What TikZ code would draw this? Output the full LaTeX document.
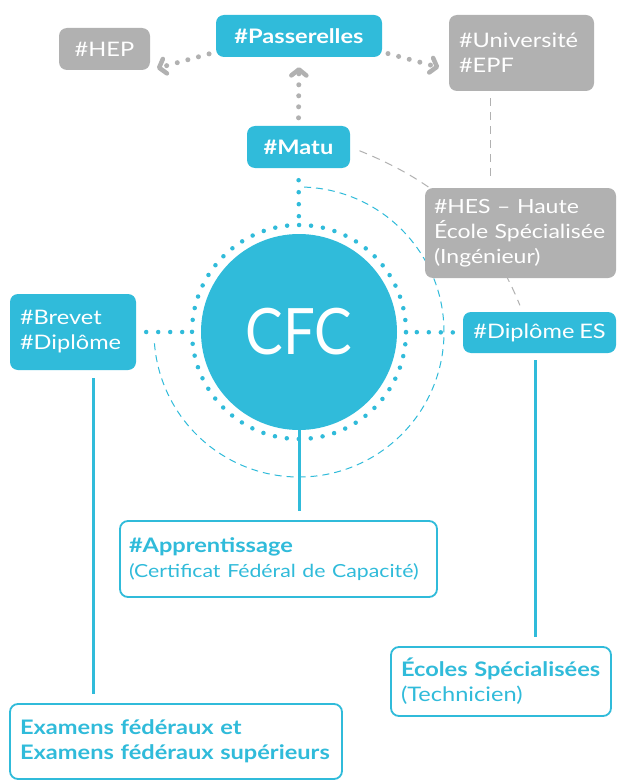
\documentclass[tikz,border=0pt]{standalone}
\usepackage{fontspec}
\setmainfont{Lato}[FakeStretch=1.18, WordSpace=0.8]
\newfontfamily\cfcfont{Lato}[FakeStretch=0.88]
\usetikzlibrary{arrows.meta,backgrounds,positioning}
\definecolor{cfcblue}{HTML}{30BBDA}
\definecolor{cfcgray}{HTML}{B1B1B1}

\begin{document}
\begin{tikzpicture}[x=1pt,y=1pt,
    box/.style={rounded corners=8pt, inner xsep=10pt, inner ysep=0pt,
      font=\fontsize{20}{25}\selectfont, text=white},
    bluebox/.style={box, fill=cfcblue},
    graybox/.style={box, fill=cfcgray},
    linebox/.style={box, draw=cfcblue, line width=1.8pt, fill=white,
      text=cfcblue, align=left},
    graydots/.style={draw=cfcgray, line width=5pt, line cap=round,
      dash pattern=on 0pt off 11pt,
      -{Straight Barb[length=6pt, width=15pt, line width=4.5pt, round]}},
    bluedots/.style={draw=cfcblue, line width=4.5pt, line cap=round,
      dash pattern=on 0pt off 12pt},
    bluedash/.style={draw=cfcblue, line width=1pt, dash pattern=on 7pt off 5pt},
    graydash/.style={draw=cfcgray, line width=1pt, dash pattern=on 8pt off 6pt},
    bluelink/.style={draw=cfcblue, line width=3pt}]
  \useasboundingbox (0,0) rectangle (617,-781);

  % boxes
  \node (CFC) [circle, fill=cfcblue, minimum size=196pt, text=white,
    font=\cfcfont\fontsize{64}{64}\selectfont] at (299,-332) {CFC};
  \node (HEP) [graybox, minimum width=91pt, minimum height=42pt] at (104.5,-49) {\#HEP};
  \node (Passerelles) [bluebox, minimum width=166pt, minimum height=42pt,
    font=\fontsize{20}{25}\selectfont\bfseries] at (299,-36) {\#Passerelles};
  \node (Univ) [graybox, text width=125pt, minimum height=76pt, align=left]
    at (521.5,-53) {\#Université\\\#EPF};
  \node (Matu) [bluebox, minimum width=103pt, minimum height=42pt,
    font=\fontsize{20}{25}\selectfont\bfseries] at (298.5,-147) {\#Matu};
  \node (HES) [graybox, inner xsep=9pt, text width=173pt, minimum height=90pt, align=left,
    font=\fontsize{19.5}{25}\selectfont]
    at (520.5,-233) {\mbox{\#HES -- Haute}\\\mbox{École Spécialisée}\\(Ingénieur)};
  \node (Brevet) [bluebox, text width=106pt, minimum height=76pt, align=left]
    at (73,-332) {\#Brevet\\\#Diplôme};
  \node (Diplome) [bluebox, minimum width=153pt, minimum height=41pt]
    at (539.5,-332.5) {\#Diplôme ES};
  \node (Appr) [linebox, text width=299pt, inner xsep=9pt, minimum height=76pt] at (278.5,-559)
    {\textbf{\#Apprentissage}\\{\fontsize{18}{23}\selectfont\mbox{(Certificat Fédéral de Capacité)}}};
  \node (Ecoles) [linebox, text width=200pt, minimum height=69pt] at (501,-681.5)
    {\textbf{\mbox{Écoles Spécialisées}}\\(Technicien)};
  \node (Examens) [linebox, text width=312pt, minimum height=75pt] at (176,-741.5)
    {\textbf{Examens fédéraux et}\\\textbf{\mbox{Examens fédéraux supérieurs}}};

  \begin{scope}[on background layer]
    \fill[white] (0,0) rectangle (617,-781);
    % rings round CFC
    \draw[bluedots] (CFC.center) circle[radius=107pt];
    \draw[bluedash] (CFC.center) ++(88:145pt) arc[start angle=88, end angle=-177, radius=145pt];
    % links
    \path (Matu.north) edge[graydots, shorten <=8pt, shorten >=10pt] (Passerelles.south);
    \path ([yshift=-16pt]Passerelles.west) edge[graydots, shorten <=7pt, shorten >=7pt] (HEP.south east);
    \path ([yshift=-16pt]Passerelles.east) edge[graydots, shorten <=6pt, shorten >=10pt] ([yshift=-17pt]Univ.west);
    \path (Matu.south) edge[bluedots, shorten <=12pt, shorten >=14pt] (CFC.north);
    \path (Brevet.east) edge[bluedots, shorten <=10pt, shorten >=12pt] (CFC.west);
    \path (Diplome.west) edge[bluedots, shorten <=10pt, shorten >=12pt] (CFC.east);
    \path (Matu.east) edge[graydash, out=-22, in=112, shorten <=10pt, shorten >=7pt] ([xshift=-17pt]Diplome.north);
    \path ([xshift=-31pt]Univ.south) edge[graydash, shorten <=7pt, shorten >=7pt] ([xshift=-31pt]Univ.south |- HES.north);
    \path ([xshift=20pt]Brevet.south) edge[bluelink, shorten <=8pt, shorten >=9pt] ([xshift=20pt]Brevet.south |- Examens.north);
    \path (CFC.south) edge[bluelink, shorten >=9pt] (CFC.south |- Appr.north);
    \path ([xshift=-4.5pt]Diplome.south) edge[bluelink, shorten <=7pt, shorten >=9pt] ([xshift=-4.5pt]Diplome.south |- Ecoles.north);
  \end{scope}
\end{tikzpicture}
\end{document}
